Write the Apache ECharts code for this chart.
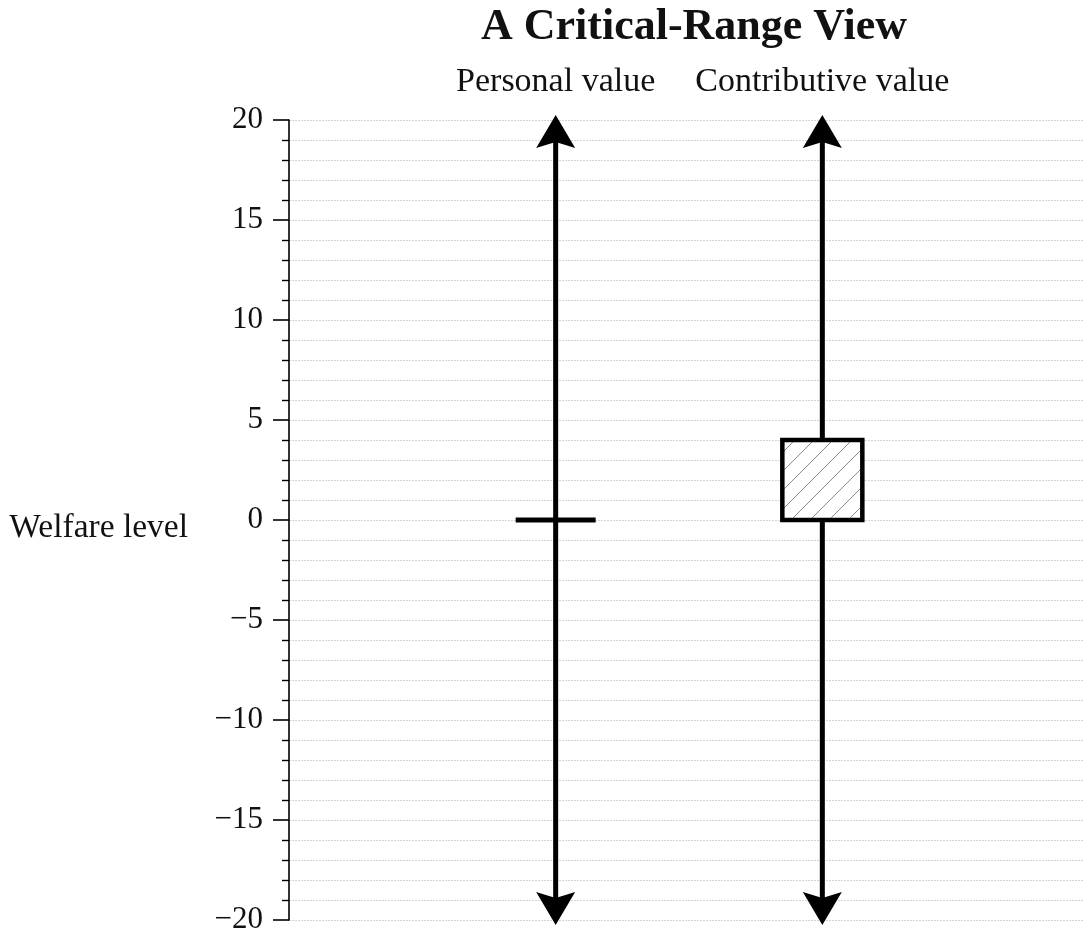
<!DOCTYPE html>
<html>
<head>
<meta charset="utf-8">
<script src="https://cdn.jsdelivr.net/npm/echarts@6/dist/echarts.min.js"></script>
<style>
html,body{margin:0;padding:0;background:#fff;}
#chart{width:1083px;height:936px;}
</style>
</head>
<body>
<div id="chart"></div>
<script>
// ---- data ----
const titleText = 'A Critical-Range View';
const yAxisName = 'Welfare level';
const categories = ['Personal value', 'Contributive value'];
const categoryPos = [0, 1];
const axisLow = [-20, -20];      // arrows run the full scale
const axisHigh = [20, 20];
const personalValue = [0];       // single critical level (Personal value)
const contributiveRange = [0, 4]; // critical range (Contributive value)
const yMin = -20, yMax = 20, yStep = 5;

const FONT = '"Liberation Serif", "DejaVu Serif", serif';

// hatch pattern
function makeHatch() {
  const s = 19;
  const c = document.createElement('canvas');
  c.width = s; c.height = s;
  const g = c.getContext('2d');
  g.fillStyle = '#fff'; g.fillRect(0, 0, s, s);
  g.strokeStyle = '#8a8a8a'; g.lineWidth = 1;
  g.beginPath();
  g.moveTo(-2, s + 2); g.lineTo(s + 2, -2);
  g.moveTo(-2, 2); g.lineTo(2, -2);
  g.moveTo(s - 2, s + 2); g.lineTo(s + 2, s - 2);
  g.stroke();
  return c;
}
const hatch = makeHatch();

const arrowData = categoryPos.map((p, i) => [p, axisLow[i], axisHigh[i]]);
const personalData = personalValue.map(v => [categoryPos[0], v]);
const contributiveData = [[categoryPos[1], contributiveRange[0], contributiveRange[1]]];

function renderArrow(params, api) {
  const x = api.value(0);
  const top = api.coord([x, api.value(2)]);
  const bot = api.coord([x, api.value(1)]);
  const cx = top[0];
  const tip = 5, len = 33, hw = 19.5, notch = 6;
  const tTop = top[1] - tip, tBot = bot[1] + tip;
  return {
    type: 'group',
    children: [
      { type: 'line', shape: { x1: cx, y1: tTop + len - notch, x2: cx, y2: tBot - len + notch },
        style: { stroke: '#000', lineWidth: 5 } },
      { type: 'polygon', shape: { points: [[cx, tTop], [cx + hw, tTop + len], [cx, tTop + len - notch], [cx - hw, tTop + len]] },
        style: { fill: '#000' } },
      { type: 'polygon', shape: { points: [[cx, tBot], [cx + hw, tBot - len], [cx, tBot - len + notch], [cx - hw, tBot - len]] },
        style: { fill: '#000' } }
    ]
  };
}

function renderTick(params, api) {
  const p = api.coord([api.value(0), api.value(1)]);
  return { type: 'line', z2: 5, shape: { x1: p[0] - 40, y1: p[1], x2: p[0] + 40, y2: p[1] },
    style: { stroke: '#000', lineWidth: 5 } };
}

function renderBox(params, api) {
  const x = api.value(0);
  const lo = api.coord([x, api.value(1)]);
  const hi = api.coord([x, api.value(2)]);
  return { type: 'rect', z2: 5, shape: { x: lo[0] - 40, y: hi[1], width: 80, height: lo[1] - hi[1] },
    style: { fill: { image: hatch, repeat: 'repeat' }, stroke: '#000', lineWidth: 4.5 } };
}

const chart = echarts.init(document.getElementById('chart'), null, { renderer: 'canvas' });
const gridStyle = { color: '#d4d4d4', width: 1, type: [2, 1] };
chart.setOption({
  backgroundColor: '#fff',
  animation: false,
  title: {
    text: titleText, left: 689, top: 1, textAlign: 'center',
    textStyle: { fontFamily: FONT, fontWeight: 'bold', fontSize: 44, color: '#111' }
  },
  grid: { left: 289, top: 120, bottom: 16, width: 800, outerBoundsMode: 'none', containLabel: false },
  xAxis: {
    type: 'value', position: 'top', min: -1, max: 2, interval: 1,
    axisLine: { show: false }, axisTick: { show: false }, splitLine: { show: false },
    axisLabel: {
      margin: 21, fontFamily: FONT, fontSize: 34, color: '#111',
      formatter: v => { const i = categoryPos.indexOf(v); return i >= 0 ? categories[i] : ''; }
    }
  },
  yAxis: {
    type: 'value', min: yMin, max: yMax, interval: yStep,
    name: yAxisName, nameLocation: 'middle', nameRotate: 0, nameGap: 101,
    nameTextStyle: { fontFamily: FONT, fontSize: 33.5, color: '#111', align: 'right', verticalAlign: 'top', lineHeight: 16 },
    axisLine: { show: true, onZero: false, lineStyle: { color: '#000', width: 1.6 } },
    axisTick: { show: true, inside: false, length: 16, lineStyle: { color: '#000', width: 1.6 } },
    minorTick: { show: true, splitNumber: 5, length: 7, lineStyle: { color: '#000', width: 1.4 } },
    splitLine: { show: true, lineStyle: gridStyle },
    minorSplitLine: { show: true, lineStyle: gridStyle },
    axisLabel: {
      margin: 26, fontFamily: FONT, fontSize: 31, color: '#111',
      formatter: v => v < 0 ? '\u2212' + Math.abs(v) : String(v)
    }
  },
  series: [
    { type: 'custom', name: 'axes', renderItem: renderArrow, data: arrowData, clip: false, z: 3 },
    { type: 'custom', name: categories[0], renderItem: renderTick, data: personalData, clip: false, z: 4 },
    { type: 'custom', name: categories[1], renderItem: renderBox, data: contributiveData, clip: false, z: 4 }
  ]
});
</script>
</body>
</html>
